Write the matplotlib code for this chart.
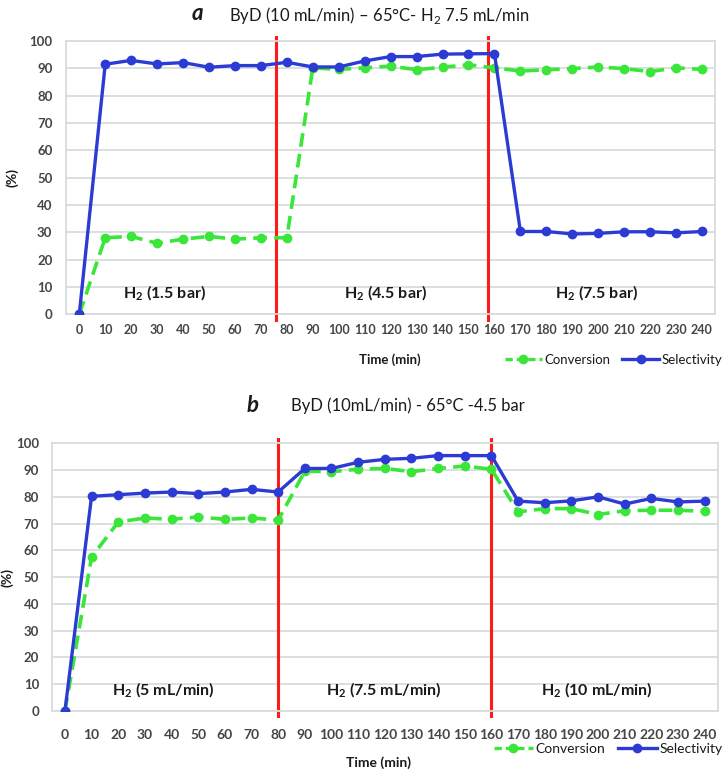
import matplotlib
matplotlib.use("Agg")
import matplotlib.pyplot as plt
from matplotlib.lines import Line2D

plt.rcParams['font.family'] = ['Lato', 'DejaVu Sans']
plt.rcParams['mathtext.fontset'] = 'custom'
plt.rcParams['mathtext.rm'] = 'Lato'
plt.rcParams['mathtext.bf'] = 'Lato:bold'

time = list(range(0, 241, 10))
xtick_labels = [str(t) for t in time]

conv_a = [0, 28, 28.5, 26, 27.5, 28.5, 27.5, 28, 28, 90.2, 89.6, 90.2, 90.8, 89.5,
          90.4, 91.3, 90.2, 89.0, 89.5, 89.9, 90.5, 89.9, 88.8, 90.2, 89.6]
sel_a = [0, 91.5, 92.9, 91.6, 92.1, 90.4, 91.0, 91.0, 92.2, 90.5, 90.5, 92.7, 94.3,
         94.3, 95.2, 95.3, 95.4, 30.3, 30.3, 29.4, 29.6, 30.2, 30.2, 29.8, 30.3]
conv_b = [0, 57.5, 70.6, 72.1, 71.6, 72.5, 71.6, 72.1, 71.3, 89.6, 89.4, 90.3, 90.6,
          89.4, 90.6, 91.5, 90.3, 74.4, 75.6, 75.6, 73.4, 74.8, 75.0, 75.0, 74.6]
sel_b = [0, 80.2, 80.8, 81.4, 81.8, 81.2, 81.8, 82.8, 81.8, 90.6, 90.6, 92.9, 94.0,
         94.4, 95.4, 95.4, 95.4, 78.4, 77.8, 78.5, 80.0, 77.3, 79.4, 78.1, 78.4]

switch_a = [76, 157.5]
switch_b = [80, 160]

regions_a = [r'H$_\mathbf{2}$ (1.5 bar)', r'H$_\mathbf{2}$ (4.5 bar)', r'H$_\mathbf{2}$ (7.5 bar)']
regions_b = [r'H$_\mathbf{2}$ (5 mL/min)', r'H$_\mathbf{2}$ (7.5 mL/min)', r'H$_\mathbf{2}$ (10 mL/min)']
region_x_a = [33, 118, 199.5]
region_x_b = [37, 119.5, 199.5]

title_a = 'ByD (10 mL/min) – 65°C- H$_2$ 7.5 mL/min'
title_b = 'ByD (10mL/min) - 65°C -4.5 bar'

GREEN = '#3ae63a'
BLUE = '#2b3bd4'
GRID = '#d9dcdc'
TXT = '#454545'

fig = plt.figure(figsize=(7.24, 7.74), dpi=100)

W, H = 724.0, 774.0
def axes_px(l, r, top, bottom):
    return fig.add_axes([l / W, 1 - bottom / H, (r - l) / W, (bottom - top) / H])

ax_a = axes_px(66.3, 715, 41, 314.3)
ax_b = axes_px(51.6, 718, 443.3, 711)

def style(ax, conv, sel, switches, regions, rx, xpad, xfs, ypad):
    ax.set_xlim(-5, 245)
    ax.set_ylim(0, 100)
    ax.set_yticks(range(0, 101, 10))
    ax.set_xticks(time)
    ax.set_xticklabels(xtick_labels)
    ax.grid(axis='y', color=GRID, linewidth=1.3, zorder=0)
    ax.set_axisbelow(True)
    for s in ax.spines.values():
        s.set_color(GRID)
        s.set_linewidth(1.3)
    ax.tick_params(axis='both', length=0, colors=TXT)
    ax.tick_params(axis='x', pad=xpad, labelsize=xfs)
    ax.tick_params(axis='y', pad=ypad, labelsize=9.5)
    for lab in ax.get_xticklabels() + ax.get_yticklabels():
        lab.set_fontweight('bold')
    for sx in switches:
        ax.axvline(sx, ymin=-0.02, ymax=1.015, color='#ff1a1a', linewidth=2.2,
                   clip_on=False, zorder=2)
    ax.plot(time, conv, color=GREEN, linestyle=(0, (3.8, 2.0)), linewidth=2.6,
            marker='o', markersize=6, zorder=3, label='Conversion')
    ax.plot(time, sel, color=BLUE, linestyle='-', linewidth=2.4,
            marker='o', markersize=6, zorder=4, label='Selectivity')
    for txt, x in zip(regions, rx):
        ax.text(x, 7.6, txt, ha='center', va='center', fontsize=11.5,
                fontweight='bold', color='#1a1a1a')

style(ax_a, conv_a, sel_a, switch_a, regions_a, region_x_a, 7, 9, 10)
style(ax_b, conv_b, sel_b, switch_b, regions_b, region_x_b, 13, 10, 9)

ax_a.set_ylabel('(%)', fontweight='bold', fontsize=10, color='#1a1a1a')
ax_a.yaxis.set_label_coords(-48 / (715 - 66.3), 0.5)
ax_b.set_ylabel('(%)', fontweight='bold', fontsize=10, color='#1a1a1a')
ax_b.yaxis.set_label_coords(-38 / (718 - 51.6), 0.5)

# titles
fig.text(197 / W, 1 - 14 / H, 'a', fontsize=16, fontweight='bold', style='italic',
         ha='center', va='center', color='#1a1a1a')
fig.text(229 / W, 1 - 15 / H, title_a, fontsize=12, ha='left', va='center', color='#1a1a1a')
fig.text(253 / W, 1 - 405 / H, 'b', fontsize=16, fontweight='bold', style='italic',
         ha='center', va='center', color='#1a1a1a')
fig.text(291 / W, 1 - 406 / H, title_b, fontsize=12, ha='left', va='center', color='#1a1a1a')

# x labels
fig.text(390 / W, 1 - 360 / H, 'Time (min)', fontsize=9.5, fontweight='bold',
         ha='center', va='center', color='#1a1a1a')
fig.text(378 / W, 1 - 763 / H, 'Time (min)', fontsize=10, fontweight='bold',
         ha='center', va='center', color='#1a1a1a')

# legends
handles = [Line2D([], [], color=GREEN, linestyle=(0, (2.2, 1.2)), linewidth=2.4,
                  marker='o', markersize=6),
           Line2D([], [], color=BLUE, linewidth=2.4, marker='o', markersize=6)]
fig.legend(handles, ['Conversion', 'Selectivity'], loc='center right',
           bbox_to_anchor=(724 / W, 1 - 360 / H), ncol=2, frameon=False,
           fontsize=9.5, handlelength=2.8, handletextpad=0.2, columnspacing=0.9,
           borderaxespad=0, borderpad=0.1, labelcolor='#1a1a1a')
fig.legend(handles, ['Conversion', 'Selectivity'], loc='center right',
           bbox_to_anchor=(724 / W, 1 - 749 / H), ncol=2, frameon=False,
           fontsize=10, handlelength=2.8, handletextpad=0.2, columnspacing=0.9,
           borderaxespad=0, borderpad=0.1, labelcolor='#1a1a1a')

fig.savefig('out.png', dpi=100)
